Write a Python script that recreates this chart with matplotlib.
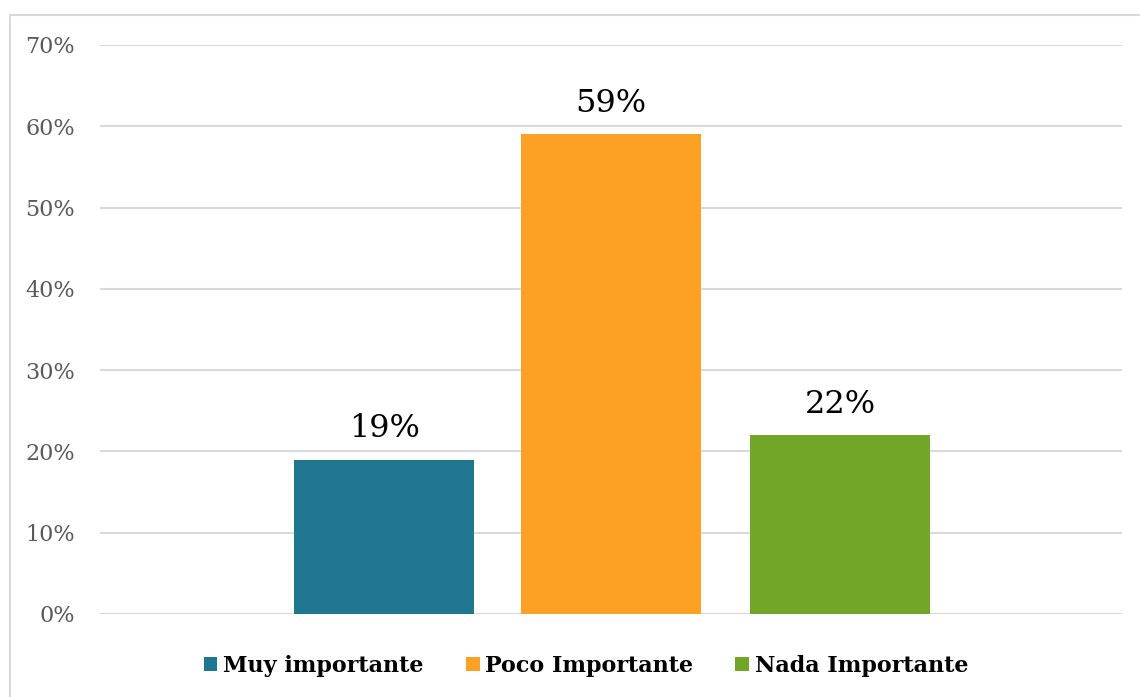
import matplotlib.pyplot as plt
from matplotlib.patches import Rectangle
from matplotlib.ticker import FuncFormatter

# Valoración de la importancia
series = ["Muy importante", "Poco Importante", "Nada Importante"]
values = [0.19, 0.59, 0.22]
colors = ["#21768F", "#FCA124", "#72A628"]
yticks = [0, 0.1, 0.2, 0.3, 0.4, 0.5, 0.6, 0.7]

plt.rcParams['font.family'] = ['DejaVu Serif']

fig = plt.figure(figsize=(11.4, 6.97), dpi=100)
ax = fig.add_axes([100 / 1140, 1 - 614 / 697, 1022 / 1140, (614 - 45) / 697])

# Outer chart border (only top and left edges fall inside the image)
fig.patches.append(Rectangle((10 / 1140, -0.5), 2.0, 1.5 - 15 / 697,
                             transform=fig.transFigure, fill=False,
                             edgecolor="#D9D9D9", linewidth=1.5))

width = 0.176
offsets = [-0.222, 0.0, 0.224]
for name, val, col, off in zip(series, values, colors, offsets):
    ax.bar(off, val, width=width, color=col, label=name, zorder=3)
    ax.text(off, val + 0.019, f"{round(val * 100)}%", ha="center", va="bottom",
            fontsize=23, color="black")

ax.set_xlim(-0.5, 0.5)
ax.set_ylim(0, 0.7)
ax.set_yticks(yticks)
ax.yaxis.set_major_formatter(FuncFormatter(lambda v, p: f"{round(v * 100)}%"))
ax.tick_params(axis="y", length=0, labelsize=16, labelcolor="#595959", pad=18)
ax.set_xticks([])
ax.grid(axis="y", color="#D9D9D9", linewidth=1.5, zorder=0)
for s in ax.spines.values():
    s.set_visible(False)

leg = fig.legend(loc="center", bbox_to_anchor=(586 / 1140, 1 - 666 / 697), ncol=3,
                 frameon=False, handlelength=0.62, handleheight=0.62,
                 handletextpad=0.25, columnspacing=1.9,
                 prop={"size": 16, "weight": "bold"})

fig.savefig("out.png", dpi=100)
